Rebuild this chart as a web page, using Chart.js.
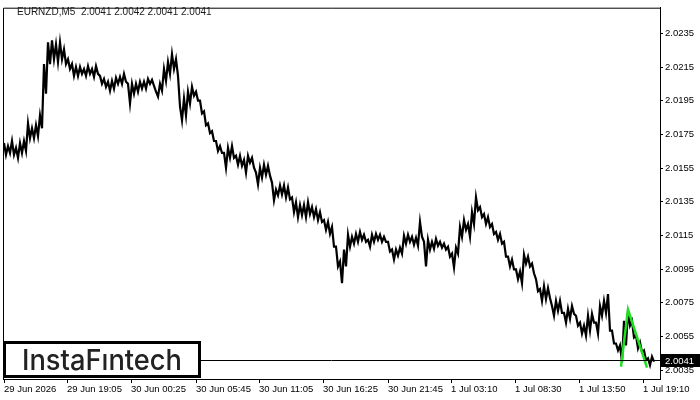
<!DOCTYPE html>
<html>
<head>
<meta charset="utf-8">
<script src="https://cdn.jsdelivr.net/npm/chart.js@4.4.1/dist/chart.umd.min.js"></script>
<style>
  html, body { margin: 0; padding: 0; background: #fff; }
</style>
</head>
<body>
<canvas id="chart" width="700" height="400"></canvas>
<script>
const symbol = 'EURNZD,M5';
const lastBar = [2.0041, 2.0042, 2.0041, 2.0041];
const lastPrice = 2.0041;
const step = 4; // M5 bars between samples

const highs = [
  2.01699, 2.01681, 2.01711, 2.01670, 2.01699, 2.01711, 2.01816, 2.01787, 2.01805, 2.01863,
  2.02168, 2.02297, 2.02309, 2.02285, 2.02297, 2.02256, 2.02197, 2.02168, 2.02151, 2.02151,
  2.02139, 2.02156, 2.02139, 2.02156, 2.02098, 2.02080, 2.02063, 2.02068, 2.02086, 2.02092,
  2.02110, 2.02051, 2.02051, 2.02051, 2.02063, 2.02063, 2.02080, 2.02074, 2.02004, 2.02051,
  2.02139, 2.02180, 2.02227, 2.02197, 2.01916, 2.01963, 2.02004, 2.02033, 2.02004, 2.01951,
  2.01887, 2.01816, 2.01769, 2.01711, 2.01681, 2.01640, 2.01670, 2.01681, 2.01623, 2.01623,
  2.01599, 2.01623, 2.01611, 2.01523, 2.01552, 2.01570, 2.01564, 2.01464, 2.01423, 2.01447,
  2.01447, 2.01435, 2.01376, 2.01347, 2.01330, 2.01330, 2.01347, 2.01318, 2.01306, 2.01288,
  2.01241, 2.01230, 2.01200, 2.01083, 2.00995, 2.01066, 2.01154, 2.01142, 2.01159, 2.01171,
  2.01154, 2.01124, 2.01154, 2.01159, 2.01154, 2.01142, 2.01112, 2.01066, 2.01066, 2.01077,
  2.01148, 2.01154, 2.01142, 2.01136, 2.01230, 2.01112, 2.01124, 2.01112, 2.01130, 2.01112,
  2.01101, 2.01083, 2.01042, 2.01077, 2.01200, 2.01241, 2.01218, 2.01288, 2.01376, 2.01318,
  2.01277, 2.01259, 2.01218, 2.01171, 2.01159, 2.01112, 2.01024, 2.01007, 2.00948, 2.00936,
  2.01036, 2.01024, 2.00983, 2.00890, 2.00831, 2.00849, 2.00837, 2.00731, 2.00761, 2.00761,
  2.00690, 2.00714, 2.00731, 2.00673, 2.00632, 2.00614, 2.00673, 2.00684, 2.00632, 2.00731,
  2.00761, 2.00802, 2.00585, 2.00508, 2.00497, 2.00643, 2.00702, 2.00643, 2.00555, 2.00514,
  2.00467, 2.00420, 2.00430
];

const lows = [
  2.01629, 2.01640, 2.01629, 2.01611, 2.01640, 2.01652, 2.01728, 2.01728, 2.01740, 2.01787,
  2.01992, 2.02168, 2.02197, 2.02180, 2.02197, 2.02168, 2.02139, 2.02098, 2.02098, 2.02110,
  2.02098, 2.02110, 2.02092, 2.02110, 2.02051, 2.02033, 2.02010, 2.02022, 2.02051, 2.02051,
  2.02063, 2.01934, 2.01992, 2.02004, 2.02022, 2.02022, 2.02051, 2.02039, 2.01975, 2.02010,
  2.02068, 2.02110, 2.02139, 2.02098, 2.01834, 2.01863, 2.01934, 2.01980, 2.01951, 2.01875,
  2.01805, 2.01758, 2.01711, 2.01652, 2.01640, 2.01552, 2.01611, 2.01611, 2.01570, 2.01564,
  2.01523, 2.01582, 2.01552, 2.01453, 2.01494, 2.01511, 2.01505, 2.01359, 2.01388, 2.01394,
  2.01376, 2.01365, 2.01288, 2.01259, 2.01271, 2.01259, 2.01277, 2.01259, 2.01241, 2.01230,
  2.01183, 2.01159, 2.01083, 2.00966, 2.00866, 2.00966, 2.01083, 2.01101, 2.01112, 2.01124,
  2.01112, 2.01083, 2.01112, 2.01124, 2.01112, 2.01112, 2.01054, 2.01007, 2.01030, 2.01042,
  2.01101, 2.01112, 2.01095, 2.01089, 2.01142, 2.00966, 2.01066, 2.01071, 2.01089, 2.01077,
  2.01066, 2.01024, 2.00960, 2.01042, 2.01142, 2.01183, 2.01142, 2.01218, 2.01300, 2.01259,
  2.01218, 2.01200, 2.01159, 2.01124, 2.01101, 2.01024, 2.00966, 2.00948, 2.00890, 2.00866,
  2.00983, 2.00966, 2.00925, 2.00819, 2.00761, 2.00772, 2.00778, 2.00673, 2.00702, 2.00690,
  2.00632, 2.00655, 2.00684, 2.00614, 2.00567, 2.00555, 2.00585, 2.00632, 2.00567, 2.00673,
  2.00690, 2.00585, 2.00508, 2.00467, 2.00397, 2.00497, 2.00614, 2.00544, 2.00479, 2.00456,
  2.00409, 2.00379, 2.00400
];

const timeTickBars = [0, 63, 127, 192, 255, 319, 384, 447, 511, 575, 639];
const timeTickLabels = [
  '29 Jun 2026', '29 Jun 19:05', '30 Jun 00:25', '30 Jun 05:45', '30 Jun 11:05',
  '30 Jun 16:25', '30 Jun 21:45', '1 Jul 03:10', '1 Jul 08:30', '1 Jul 13:50', '1 Jul 19:10'
];
const priceTicks = [2.0035, 2.0055, 2.0075, 2.0095, 2.0115, 2.0135, 2.0155, 2.0175, 2.0195, 2.0215, 2.0235];

const patternBars = [617, 624, 643];
const patternPrices = [2.0037, 2.0071, 2.00365];

const axisFont = { family: 'Liberation Sans', size: 9.5 };

// bar trace: high of each sample, then its low half a sample later
const trace = [];
highs.forEach((h, i) => {
  trace.push({ x: i * step, y: h });
  trace.push({ x: i * step + step / 2, y: lows[i] });
});

// frame, price line, labels, logo
const overlay = {
  id: 'overlay',
  afterDraw (chart) {
    const { ctx, chartArea: a, scales } = chart;
    ctx.save();
    ctx.strokeStyle = '#000';
    ctx.lineWidth = 1;
    ctx.beginPath();
    ctx.moveTo(a.left + 0.5, a.bottom);
    ctx.lineTo(a.left + 0.5, a.top + 0.5);
    ctx.lineTo(a.right, a.top + 0.5);
    ctx.stroke();

    // current price line
    const py = Math.round(scales.y.getPixelForValue(lastPrice)) + 0.5;
    ctx.beginPath();
    ctx.moveTo(a.left, py);
    ctx.lineTo(a.right, py);
    ctx.stroke();

    ctx.fillStyle = '#000';
    ctx.fillRect(a.right + 1, py - 6.5, 39, 13);
    ctx.fillStyle = '#fff';
    ctx.font = '9.5px "Liberation Sans"';
    ctx.textBaseline = 'middle';
    ctx.textAlign = 'left';
    ctx.fillText(lastPrice.toFixed(4), a.right + 5, py + 0.5);

    // title
    ctx.fillStyle = '#1a1a1a';
    ctx.font = '10px "Liberation Sans"';
    ctx.fillText(symbol + '  ' + lastBar.map(v => v.toFixed(4)).join(' '), 17, 12);

    // logo box
    ctx.fillStyle = '#fff';
    ctx.fillRect(3, 341, 198, 37);
    ctx.lineWidth = 3;
    ctx.strokeRect(4.5, 342.5, 195, 34);
    ctx.fillStyle = '#222';
    ctx.font = '500 29px Inter';
    ctx.textBaseline = 'alphabetic';
    ctx.textAlign = 'center';
    const txt = 'InstaF\u0131ntech';
    const w = ctx.measureText(txt).width;
    const k = Math.min(1, 160 / w);
    ctx.translate(102, 370);
    ctx.scale(k, 1);
    ctx.fillText(txt, 0, 0);
    ctx.restore();
  }
};

new Chart(document.getElementById('chart'), {
  type: 'line',
  data: {
    datasets: [
      {
        data: patternBars.map((b, i) => ({ x: b, y: patternPrices[i] })),
        borderColor: '#1ee01e',
        borderWidth: 2.5,
        pointRadius: 0,
        fill: false,
        order: -1
      },
      {
        data: trace,
        borderColor: '#000',
        borderWidth: 2.2,
        pointRadius: 0,
        fill: false
      }
    ]
  },
  options: {
    responsive: false,
    animation: false,
    layout: { padding: { left: 3, top: 3, right: 0, bottom: 0 } },
    plugins: { legend: { display: false }, tooltip: { enabled: false } },
    scales: {
      x: {
        type: 'linear',
        min: -1,
        max: 656,
        grid: { drawOnChartArea: false, drawTicks: true, tickLength: 4, color: '#000' },
        border: { display: true, color: '#000' },
        ticks: {
          autoSkip: false,
          maxRotation: 0,
          align: 'start',
          padding: 1,
          color: '#000',
          font: axisFont,
          callback: (v, i) => timeTickLabels[i]
        },
        afterBuildTicks: (s) => { s.ticks = timeTickBars.map(v => ({ value: v })); },
        afterFit: (s) => { s.height = 21; }
      },
      y: {
        type: 'linear',
        position: 'right',
        min: 2.00297,
        max: 2.02503,
        grid: { drawOnChartArea: false, drawTicks: true, tickLength: 3, color: '#000' },
        border: { display: true, color: '#000' },
        ticks: {
          padding: 2,
          color: '#000',
          font: axisFont,
          callback: (v) => v.toFixed(4)
        },
        afterBuildTicks: (s) => { s.ticks = priceTicks.map(v => ({ value: v })); },
        afterFit: (s) => { s.width = 40; }
      }
    }
  },
  plugins: [overlay]
});
</script>
</body>
</html>
